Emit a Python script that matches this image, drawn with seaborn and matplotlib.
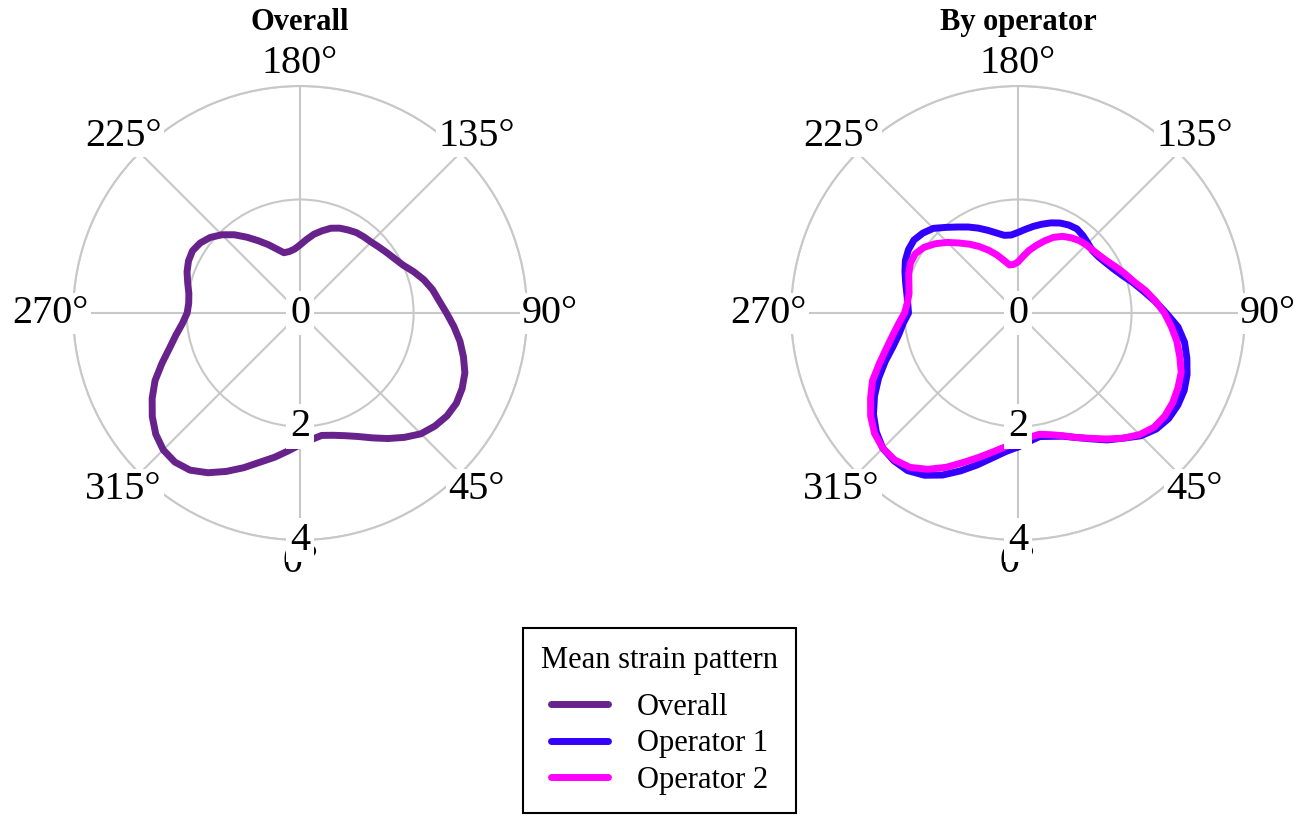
import numpy as np
import pandas as pd
import matplotlib
matplotlib.use("Agg")
import matplotlib.pyplot as plt
import seaborn as sns

# ---------------- data (every 5 degrees) ----------------
angles_deg = list(range(0, 360, 5))
overall_r = [2.32, 2.24, 2.19, 2.23, 2.30, 2.40, 2.54, 2.70, 2.86, 3.01, 3.10, 3.16,
             3.18, 3.15, 3.09, 2.98, 2.86, 2.72, 2.58, 2.46, 2.37, 2.26, 2.13, 2.00,
             1.92, 1.86, 1.81, 1.77, 1.75, 1.73, 1.69, 1.65, 1.59, 1.50, 1.41, 1.30,
             1.20, 1.13, 1.10, 1.10, 1.20, 1.33, 1.47, 1.63, 1.80, 1.95, 2.07, 2.15,
             2.19, 2.17, 2.12, 2.05, 1.99, 1.97, 1.99, 2.08, 2.22, 2.38, 2.59, 2.82,
             3.01, 3.18, 3.32, 3.41, 3.43, 3.38, 3.25, 3.08, 2.90, 2.72, 2.58, 2.44]
operator1_r = [2.36, 2.27, 2.21, 2.25, 2.31, 2.42, 2.56, 2.73, 2.88, 3.06, 3.18, 3.24,
               3.25, 3.23, 3.17, 3.08, 2.98, 2.83, 2.61, 2.42, 2.24, 2.09, 1.95, 1.85,
               1.78, 1.73, 1.71, 1.74, 1.78, 1.81, 1.79, 1.75, 1.69, 1.62, 1.55, 1.48,
               1.42, 1.38, 1.39, 1.46, 1.55, 1.65, 1.75, 1.85, 1.97, 2.11, 2.19, 2.24,
               2.23, 2.19, 2.12, 2.05, 1.99, 1.95, 1.93, 2.03, 2.13, 2.28, 2.49, 2.71,
               2.92, 3.11, 3.26, 3.37, 3.40, 3.39, 3.30, 3.15, 2.96, 2.77, 2.59, 2.45]
operator2_r = [2.26, 2.20, 2.17, 2.22, 2.30, 2.42, 2.55, 2.71, 2.88, 3.03, 3.13, 3.16,
               3.15, 3.11, 3.06, 2.95, 2.84, 2.71, 2.58, 2.43, 2.28, 2.12, 2.01, 1.91,
               1.82, 1.76, 1.72, 1.70, 1.67, 1.62, 1.56, 1.47, 1.35, 1.23, 1.12, 1.00,
               0.90, 0.86, 0.86, 0.96, 1.09, 1.22, 1.35, 1.48, 1.61, 1.76, 1.90, 2.02,
               2.09, 2.09, 2.05, 1.99, 1.95, 1.96, 2.00, 2.11, 2.24, 2.40, 2.60, 2.83,
               3.00, 3.17, 3.30, 3.37, 3.38, 3.32, 3.18, 3.00, 2.80, 2.63, 2.48, 2.36]

series_names = ["Overall", "Operator 1", "Operator 2"]
series_colors = ["#68228B", "#3300FF", "#FF00FF"]

theta_ticks = [0, 45, 90, 135, 180, 225, 270, 315]
theta_labels = ["0°", "45°", "90°", "135°", "180°", "225°", "270°", "315°"]
r_ticks = [0, 2, 4]
r_max = 4
panel_titles = ["Overall", "By operator"]
legend_title = "Mean strain pattern"

# ---------------- styling ----------------
sns.set_theme(style="white")
plt.rcParams["font.family"] = ["Liberation Serif", "DejaVu Serif"]
plt.rcParams["text.color"] = "black"
plt.rcParams["legend.labelcolor"] = "black"

def closed_frame(values):
    th = np.deg2rad(np.r_[angles_deg, angles_deg[0] + 360])
    r = np.r_[values, values[0]]
    return pd.DataFrame({"theta": th, "r": r})

fig = plt.figure(figsize=(13.07, 8.16), dpi=100)
ax1 = fig.add_axes([0.0559, 0.3382, 0.3474, 0.5564], projection="polar")
ax2 = fig.add_axes([0.6052, 0.3382, 0.3474, 0.5564], projection="polar")

grid_col = "#c8c8c8"

def style(ax, title):
    ax.set_facecolor("white")
    ax.set_theta_zero_location("S")
    ax.set_theta_direction(1)
    ax.set_ylim(0, r_max)
    ax.set_yticks(r_ticks)
    ax.set_yticklabels([])
    ax.set_xticks(np.deg2rad(theta_ticks))
    ax.set_xticklabels([])
    ax.grid(True, color=grid_col, lw=1.5)
    ax.spines["polar"].set_color(grid_col)
    ax.spines["polar"].set_linewidth(1.5)
    for t, lab in zip(theta_ticks, theta_labels):
        ax.text(np.deg2rad(t), r_max * 1.10, lab, ha="center", va="center", fontsize=29,
                color="black", bbox=dict(fc="white", ec="none", pad=1.5), zorder=4,
                clip_on=False)
    for r in r_ticks:
        ax.text(0, r, str(r), ha="center", va="center", fontsize=29, color="black",
                bbox=dict(fc="white", ec="none", pad=2.5), zorder=5, clip_on=False)
    ax.set_title(title, fontsize=22, fontweight="bold", pad=40, color="black")

handles = []
df = closed_frame(overall_r)
sns.lineplot(data=df, x="theta", y="r", ax=ax1, sort=False, estimator=None,
             color=series_colors[0], lw=5, label=series_names[0], legend=False)
handles.append(ax1.get_lines()[-1])

for vals, name, col in [(operator1_r, series_names[1], series_colors[1]),
                        (operator2_r, series_names[2], series_colors[2])]:
    df = closed_frame(vals)
    sns.lineplot(data=df, x="theta", y="r", ax=ax2, sort=False, estimator=None,
                 color=col, lw=5, label=name, legend=False)
    handles.append(ax2.get_lines()[-1])

for ax, t in zip([ax1, ax2], panel_titles):
    style(ax, t)
    ax.set_xlabel("")
    ax.set_ylabel("")

leg = fig.legend(handles, series_names, title=legend_title, loc="upper center",
                 bbox_to_anchor=(0.5046, 0.2304), borderaxespad=0, fontsize=22,
                 title_fontsize=22, frameon=True, fancybox=False, edgecolor="black",
                 framealpha=1, handlelength=1.85, handletextpad=0.95, borderpad=0.6,
                 labelspacing=0.25)
leg.get_frame().set_linewidth(1.5)
leg.get_title().set_color("black")
try:
    leg._legend_box.sep = 12.5
except Exception:
    pass

fig.savefig("out.png", dpi=100, facecolor="white")
